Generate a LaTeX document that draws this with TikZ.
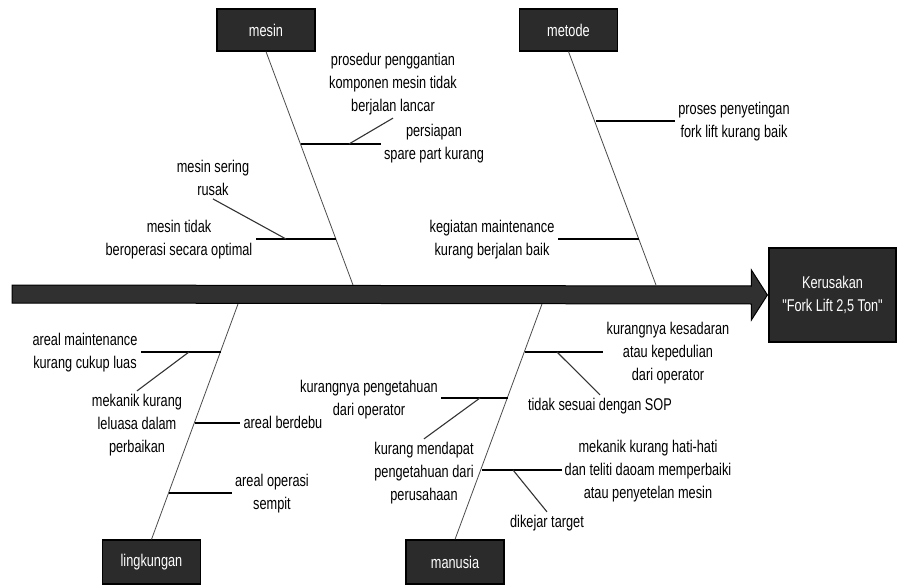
\documentclass[tikz,border=0pt]{standalone}
\usepackage{fontspec}
\newfontfamily\fishfont{Liberation Sans}[FakeStretch=0.75]
\usetikzlibrary{calc}
\definecolor{boxgray}{RGB}{43,43,43}
\definecolor{arrowgray}{RGB}{48,48,48}

\begin{document}
\begin{tikzpicture}[x=1pt, y=-1pt,
    catbox/.style={draw=black, line width=1.2pt, fill=boxgray, text=white, minimum width=98pt, minimum height=42pt, font=\fishfont\fontsize{17}{23}\selectfont},
    causetext/.style={align=center, inner sep=3pt, font=\fishfont\fontsize{17}{23}\selectfont},
    bone/.style={black!70, line width=0.8pt},
    twig/.style={black, line width=1.3pt},
    subtwig/.style={black!80, line width=1.1pt}]
    \useasboundingbox (0,0) rectangle (898,586);

    % mesin
    \node[catbox] (mesin) at (266,30) {mesin};
    \coordinate (mesinend) at (353,285);
    \draw[bone] (mesin.south) -- (mesinend);
    \coordinate (m1) at (301,144);
    \coordinate (m1b) at (349,144);
    \coordinate (m2) at (336,239);
    \coordinate (m2b) at (286,239);
    \node[causetext] (persiapan) at (434,144) {persiapan\\spare part kurang};
    \draw[twig] (m1) -- (m1 -| persiapan.west);
    \node[causetext] (prosedur) at (393,84) {prosedur penggantian\\komponen mesin tidak\\berjalan lancar};
    \draw[subtwig] (m1b) -- (prosedur.south);
    \node[causetext] (tidak) at (179,240) {mesin tidak\\beroperasi secara optimal};
    \draw[twig] (m2) -- (m2 -| tidak.east);
    \node[causetext] (sering) at (213,178) {mesin sering\\rusak};
    \draw[subtwig] (m2b) -- (sering.south);

    % metode
    \node[catbox] (metode) at (568.5,30) {metode};
    \coordinate (metodeend) at (656,285);
    \draw[bone] (metode.south) -- (metodeend);
    \coordinate (t1) at (596,121);
    \coordinate (t2) at (639,239);
    \node[causetext] (proses) at (734,122) {proses penyetingan\\fork lift kurang baik};
    \draw[twig] (t1) -- (t1 -| proses.west);
    \node[causetext] (kegiatan) at (492,240) {kegiatan maintenance\\kurang berjalan baik};
    \draw[twig] (t2) -- (t2 -| kegiatan.east);

    % lingkungan
    \node[catbox, minimum height=44pt] (lingkungan) at (151.5,562) {lingkungan};
    \coordinate (lingkunganend) at (238,304);
    \draw[bone] (lingkungan.north) -- (lingkunganend);
    \coordinate (l1) at (221,352);
    \coordinate (l1b) at (189,352);
    \coordinate (l2) at (195,423);
    \coordinate (l3) at (169,493);
    \node[causetext] (areal) at (85,353) {areal maintenance\\kurang cukup luas};
    \draw[twig] (l1) -- (l1 -| areal.east);
    \node[causetext] (mekanik) at (137,425) {mekanik kurang\\leluasa dalam\\perbaikan};
    \draw[subtwig] (l1b) -- (mekanik.north);
    \node[causetext] (berdebu) at (283,422) {areal berdebu};
    \draw[twig] (l2) -- (l2 -| berdebu.west);
    \node[causetext] (sempit) at (272,494) {areal operasi\\sempit};
    \draw[twig] (l3) -- (l3 -| sempit.west);

    % manusia
    \node[catbox, minimum height=44pt] (manusia) at (455,562) {manusia};
    \coordinate (manusiaend) at (542,304);
    \draw[bone] (manusia.north) -- (manusiaend);
    \coordinate (h1) at (525,352);
    \coordinate (h1b) at (557,352);
    \coordinate (h2) at (508,398);
    \coordinate (h2b) at (480,398);
    \coordinate (h3) at (482,470);
    \coordinate (h3b) at (513,470);
    \node[causetext] (kesadaran) at (668,353) {kurangnya kesadaran\\atau kepedulian\\dari operator};
    \draw[twig] (h1) -- (h1 -| kesadaran.west);
    \node[causetext] (sop) at (600,406) {tidak sesuai dengan SOP};
    \draw[subtwig] (h1b) -- (sop.north);
    \node[causetext] (pengetahuan) at (369,400) {kurangnya pengetahuan\\dari operator};
    \draw[twig] (h2) -- (h2 -| pengetahuan.east);
    \node[causetext] (mendapat) at (424,473) {kurang mendapat\\pengetahuan dari\\perusahaan};
    \draw[subtwig] (h2b) -- (mendapat.north);
    \node[causetext] (hatihati) at (648,471) {mekanik kurang hati-hati\\dan teliti daoam memperbaiki\\atau penyetelan mesin};
    \draw[twig] (h3) -- (h3 -| hatihati.west);
    \node[causetext] (target) at (547,523) {dikejar target};
    \draw[subtwig] (h3b) -- (target.north);

    % head and spine
    \node[catbox, minimum width=127pt, minimum height=94pt, align=center] (head) at (832.5,295) {Kerusakan\\"Fork Lift 2,5 Ton"};
    \coordinate (tail) at (12,294);
    \draw[black, line width=1pt, fill=arrowgray] ($(tail)+(0,-9)$) -- ($(head.west)+(-17,-9)$) -- ($(head.west)+(-17,-25)$)
        -- ($(head.west)+(-1,0)$) -- ($(head.west)+(-17,25)$) -- ($(head.west)+(-17,9)$) -- ($(tail)+(0,9)$) -- cycle;
\end{tikzpicture}
\end{document}
